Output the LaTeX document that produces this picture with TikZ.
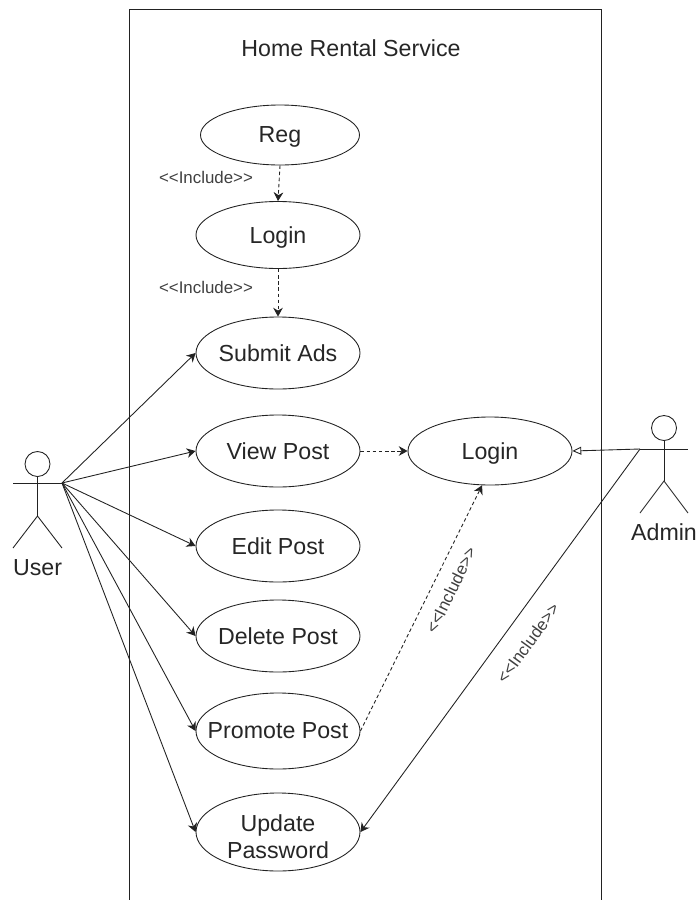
\documentclass[tikz,border=0pt]{standalone}
\usepackage{fontspec}
\setmainfont{Liberation Sans}
\usetikzlibrary{shapes.geometric,arrows.meta}
\definecolor{linegray}{HTML}{222222}
\definecolor{includegray}{HTML}{404040}
\begin{document}
\begin{tikzpicture}[x=0.2mm,y=0.2mm]
\tikzstyle{every node}+=[inner sep=0pt]
\tikzstyle{usecase}=[draw=linegray,line width=0.5pt,shape=ellipse,minimum width=3.28cm,align=center,text depth=0pt,font=\fontsize{13.2}{15.3}\selectfont,text=black!85]
\tikzstyle{caption}=[font=\fontsize{13.2}{15.3}\selectfont,text=black!85]
\tikzstyle{include}=[font=\fontsize{9.6}{11}\selectfont,text=includegray]
\tikzstyle{assoc}=[linegray,line width=0.5pt,-{Stealth[length=5pt,width=5.5pt]}]
\tikzstyle{dep}=[assoc,dash pattern=on 2pt off 1.5pt]
\tikzstyle{actor}=[draw=linegray,line width=0.5pt,shape=circle,minimum size=0.5cm]
\useasboundingbox (0,0) rectangle (696,-900);
\draw [linegray,line width=0.5pt] (129,-900) -- (129,-9) -- (601,-9) -- (601,-900);
\node [caption] (title) at (351,-48) {Home Rental Service};
\node [usecase,minimum width=3.18cm,minimum height=1.2cm] (reg) at (280,-135) {Reg};
\node [usecase,minimum height=1.34cm] (login) at (278,-235) {Login};
\node [usecase,minimum height=1.44cm] (submit) at (278,-353) {\makebox[0pt]{Submit Ads}};
\node [usecase,minimum height=1.44cm] (view) at (278,-451) {View Post};
\node [usecase,minimum height=1.44cm] (edit) at (278,-546) {Edit Post};
\node [usecase,minimum height=1.44cm] (delete) at (278,-636) {\makebox[0pt]{Delete Post}};
\node [usecase,minimum height=1.52cm] (promote) at (278,-731) {\makebox[0pt]{Promote Post}};
\node [usecase,minimum height=1.56cm] (update) at (278,-832) {\raisebox{-5pt}{\makebox[0pt]{Update}}\\\raisebox{-5pt}{\makebox[0pt]{Password}}};
\node [usecase,minimum height=1.36cm] (adminlogin) at (490,-451) {Login};
% user
\node [actor] (userhead) at (37.5,-464) {};
\coordinate (userhip) at (37.5,-516);
\coordinate (userarm) at (13,-483);
\coordinate (userhand) at (62,-483);
\coordinate (userlegl) at (13,-548);
\coordinate (userlegr) at (62,-548);
\draw [linegray,line width=0.5pt] (userhead) -- (userhip);
\draw [linegray,line width=0.5pt] (userarm) -- (userhand);
\draw [linegray,line width=0.5pt] (userlegl) -- (userhip) -- (userlegr);
\node [caption] (user) at (37.5,-568) {User};
% admin
\node [actor] (adminhead) at (664,-428) {};
\coordinate (adminhip) at (664,-481);
\coordinate (adminhand) at (640,-449);
\coordinate (adminarm) at (688,-449);
\coordinate (adminlegl) at (640,-513);
\coordinate (adminlegr) at (688,-513);
\draw [linegray,line width=0.5pt] (adminhead) -- (adminhip);
\draw [linegray,line width=0.5pt] (adminhand) -- (adminarm);
\draw [linegray,line width=0.5pt] (adminlegl) -- (adminhip) -- (adminlegr);
\node [caption] (admin) at (664,-532) {Admin};
% user associations
\draw [assoc] (userhand) -- (submit.west);
\draw [assoc] (userhand) -- (view.west);
\draw [assoc] (userhand) -- (edit.west);
\draw [assoc] (userhand) -- (delete.west);
\draw [assoc] (userhand) -- (promote.west);
\draw [assoc] (userhand) -- (update.west);
% admin associations
\draw [linegray,line width=0.5pt,-{Triangle[open,length=5pt,width=4.5pt]}] (adminhand) -- (adminlogin.east);
\draw [assoc] (adminhand) -- (update.east);
% includes
\draw [dep] (reg.south) -- (login.north);
\draw [dep] (login.south) -- (submit.north);
\draw [dep] (view.east) -- (adminlogin.west);
\draw [dep] (promote.east) -- (adminlogin.257);
\node [include] (regincl) at (206,-177) {<{}<Include>{}>};
\node [include] (loginincl) at (206,-287) {<{}<Include>{}>};
\node [include,rotate=64] (promoteincl) at (451,-590) {<{}<Include>{}>};
\node [include,rotate=54] (updateincl) at (528,-643) {<{}<Include>{}>};
\end{tikzpicture}
\end{document}
